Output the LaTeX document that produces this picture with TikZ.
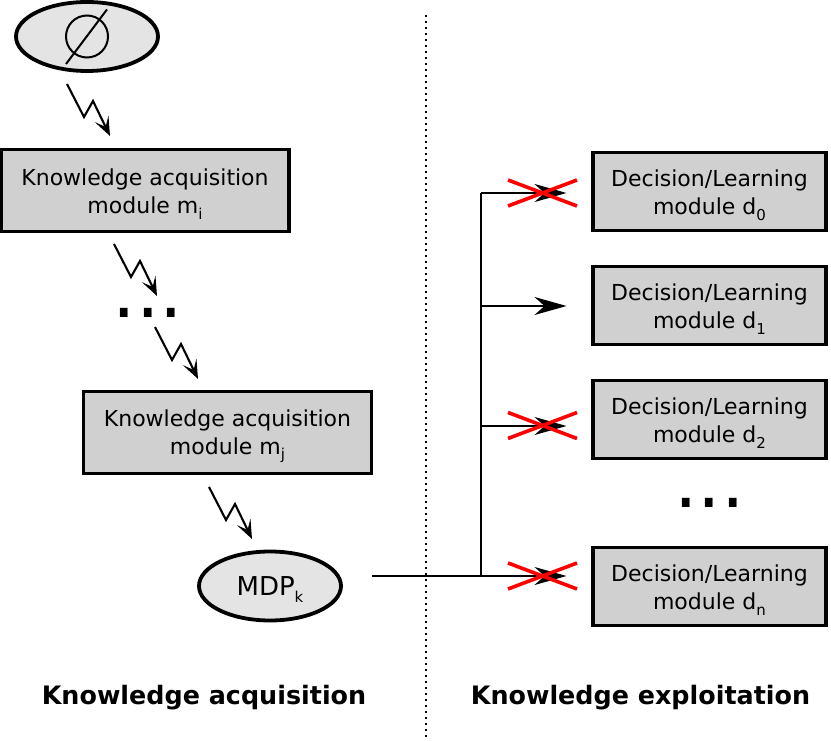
\documentclass[tikz,border=0pt]{standalone}
\usepackage{fontspec}
\setmainfont{DejaVu Sans}
\usetikzlibrary{arrows.meta,shapes.geometric}
\newcommand{\subt}[1]{\raisebox{-0.25em}{\fontsize{15}{15}\selectfont #1}}
\newcommand{\toppad}{\rule{0pt}{24pt}}
\tikzset{
  x=1pt,y=-1pt,
  box/.style={draw=black,line width=3.8pt,fill=boxgray,rectangle,align=center,inner sep=0pt,minimum width=#1,minimum height=78pt,font=\fontsize{22}{28}\selectfont},
  blob/.style={draw=black,line width=3.8pt,fill=blobgray,ellipse,inner sep=0pt,minimum width=142pt,minimum height=69pt},
  bolt/.style={draw=black,line width=2.1pt,-{Stealth[length=19pt,width=15pt,inset=9pt]}},
  wire/.style={draw=black,line width=2pt},
  branch/.style={wire,-{Stealth[length=32pt,width=18pt,inset=10pt]}},
  cross/.style={draw=crossred,line width=3.6pt},
  title/.style={font=\fontsize{25.4}{28}\selectfont\bfseries,inner sep=0pt},
  dots/.style={font=\fontsize{74}{74}\selectfont,inner sep=0pt,anchor=base},
}
\definecolor{boxgray}{RGB}{208,208,208}
\definecolor{blobgray}{RGB}{228,228,228}
\definecolor{crossred}{RGB}{255,0,0}
\begin{document}
\begin{tikzpicture}
\useasboundingbox (0,0) rectangle (831,741);
% nodes
\node[blob] (empty) at (87,36.5) {};
\node[circle,draw=black,line width=2pt,minimum size=42pt,inner sep=0pt] (emptyc) at (87,36.5) {};
\coordinate (sa) at (66,64);
\coordinate (sb) at (107,9.5);
\draw[wire] (sa) -- (sb);
\node[box=288pt,minimum height=82pt] (mi) at (145,190.5) {\toppad Knowledge acquisition\\module m\subt{i}};
\node[box=288pt,minimum height=82pt] (mj) at (227.5,432.5) {\toppad Knowledge acquisition\\module m\subt{j}};
\node[blob,font=\fontsize{26}{28}\selectfont] (mdp) at (270,586) {\rule{0pt}{26pt}MDP\subt{k}};
\node[box=233.5pt] (d0) at (709.5,191.5) {\toppad Decision/Learning\\module d\subt{0}};
\node[box=233.5pt] (d1) at (709.5,305.5) {\toppad Decision/Learning\\module d\subt{1}};
\node[box=233.5pt] (d2) at (709.5,419.5) {\toppad Decision/Learning\\module d\subt{2}};
\node[box=233.5pt] (dn) at (709.5,586.5) {\toppad Decision/Learning\\module d\subt{n}};
\node[dots] (dotsl) at (148,317) {...};
\node[dots] (dotsr) at (709.5,507.5) {...};
\node[title] (tl) at (204,698) {Knowledge acquisition};
\node[title] (tr) at (640.5,698) {Knowledge exploitation};
% divider
\coordinate (divt) at (425.5,15);
\coordinate (divb) at (425.5,739);
\draw[line width=2pt,dash pattern=on 2pt off 4pt] (divt) -- (divb);
% lightning connectors
\foreach \n/\sx/\sy in {a/67/84,b/114/244,c/155/327,e/209/487}{
  \coordinate (bolt\n s) at (\sx,\sy);
  \coordinate (bolt\n t) at (\sx+43,\sy+52);
  \draw[bolt] (bolt\n s) -- ++(17,33) -- ++(9,-16) -- (bolt\n t);
}
% bus
\coordinate (bus) at (481,576);
\coordinate (bust) at (481,193);
\coordinate (e0) at (566.5,193);
\coordinate (j1) at (481,306);
\coordinate (e1) at (566.5,306);
\coordinate (j2) at (481,426);
\coordinate (e2) at (566.5,426);
\coordinate (e3) at (566.5,576);
\coordinate (mdpout) at (372,576);
\draw[wire] (mdpout) -- (bus) -- (bust);
\draw[branch] (bust) -- (e0);
\draw[branch] (j1) -- (e1);
\draw[branch] (j2) -- (e2);
\draw[branch] (bus) -- (e3);
% red crosses
\foreach \n/\y in {a/193,b/425.5,c/576}{
  \coordinate (x\n1) at (508,\y-13);
  \coordinate (x\n2) at (577,\y+13);
  \coordinate (x\n3) at (508,\y+13);
  \coordinate (x\n4) at (577,\y-13);
  \draw[cross] (x\n1) -- (x\n2);
  \draw[cross] (x\n3) -- (x\n4);
}
\end{tikzpicture}
\end{document}
